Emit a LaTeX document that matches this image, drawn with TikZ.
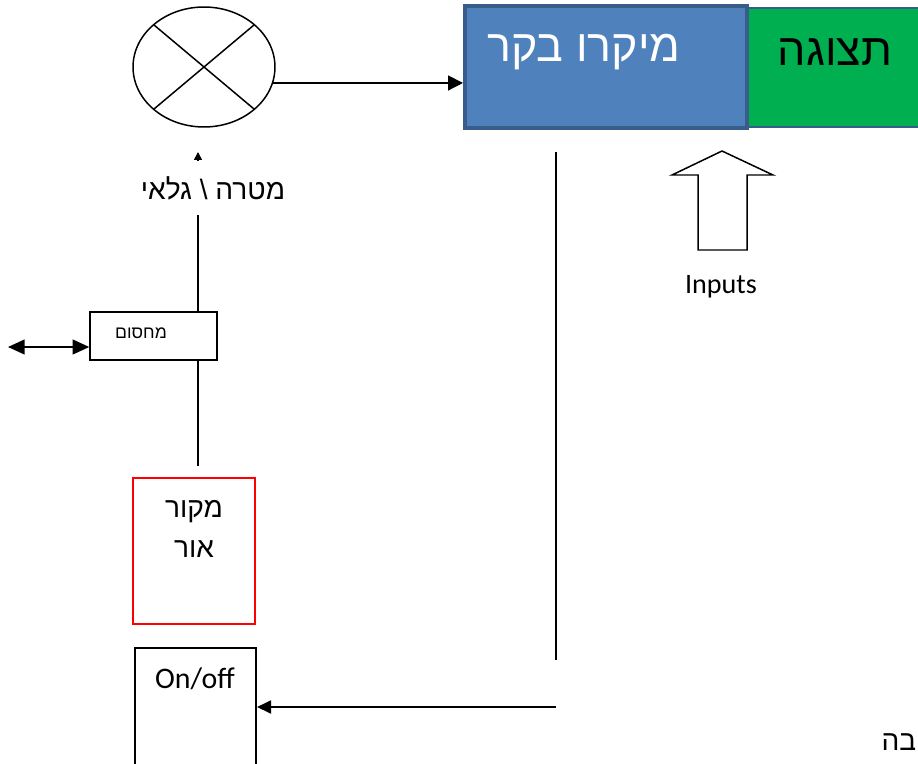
\documentclass[tikz,border=0pt]{standalone}
\usepackage{fontspec}
\setmainfont{Carlito}
\newfontfamily\hebfont[Script=Hebrew]{Liberation Sans}
\TeXXeTstate=1
\usetikzlibrary{arrows.meta,shapes.geometric}
\definecolor{ctrlblue}{RGB}{79,129,189}
\definecolor{ctrledge}{RGB}{56,93,138}
\definecolor{dispgreen}{RGB}{0,176,80}
\newcommand{\heb}[1]{{\hebfont\beginR #1\endR}}
\tikzset{
  box/.style={draw, rectangle, inner sep=0pt},
  lbl/.style={inner sep=0pt, font=\fontsize{16}{19}\selectfont},
}
\begin{document}
\begin{tikzpicture}[x=0.02cm, y=-0.02cm, line width=0.85pt,
    >={Triangle[length=8.5pt,width=8.5pt]}]
		\useasboundingbox (0,0) rectangle (918,763);
		% target / detector
		\node[draw, ellipse, minimum width=2.84cm, minimum height=2.4cm, inner sep=0pt] (det) at (204,67) {};
		\draw (154,25) -- (254,109);
		\draw (254,25) -- (154,109);
		% controller and display
		\draw[fill=dispgreen, draw=ctrledge, line width=0.6pt] (747,8) rectangle (935,127);
		\node[box, fill=ctrlblue, draw=ctrledge, line width=2.3pt, minimum width=5.64cm, minimum height=2.44cm] (ctrl) at (606,67) {};
		\node[lbl, text=white, font=\fontsize{25.5}{30}\selectfont] at (584,52) {\heb{מיקרו בקר}};
		\node[lbl, font=\fontsize{25.5}{30}\selectfont] (disp) at (835,52) {\heb{תצוגה}};
		\draw[->] (det.-13) -- (det.-13 -| ctrl.west);
		% beam path
		\node[box, minimum width=2.54cm, minimum height=0.96cm] (gate) at (153.5,336) {};
		\node[lbl, font=\fontsize{10}{12}\selectfont] at (141,333) {\heb{מחסום}};
		\coordinate (beam) at (198,466);
		\draw (beam) -- (beam |- gate.south);
		\draw[-{Triangle[length=4.5pt,width=4.5pt]}] (beam |- gate.north) -- (198,152);
		\node[lbl, fill=white, minimum height=1.1cm] (target) at (213,188) {\heb{מטרה \textbackslash{} גלאי}};
		\coordinate (side) at (8,347);
		\draw[<->, >={Triangle[length=9.5pt,width=8.5pt]}] (side) -- (side -| gate.west);
		% light source and switch
		\node[box, draw=red, line width=1.2pt, minimum width=2.44cm, minimum height=2.92cm] (src) at (194,551) {};
		\node[lbl, align=center, font=\fontsize{16}{23}\selectfont] at (194,529) {\heb{מקור}\\\heb{אור}};
		\node[box, line width=1.2pt, minimum width=2.42cm, minimum height=2.56cm] (onoff) at (195.5,712) {};
		\node[lbl, font=\fontsize{17}{20}\selectfont] at (195,679) {On/off};
		\coordinate (bus) at (556,152);
		\draw (bus) -- (556,660);
		\coordinate (ret) at (556,707);
		\draw[->, >={Triangle[length=8pt,width=7.5pt]}] (ret) -- (ret -| onoff.east);
		% inputs
		\draw (722,151) -- (773,175) -- (747,175) -- (747,250) -- (698,250) -- (698,175) -- (672,175) -- cycle;
		\node[lbl] (inputs) at (721,287) {Inputs};
		\node[lbl, anchor=east, font=\fontsize{16}{19}\selectfont] at (917,742) {\heb{בה}};
\end{tikzpicture}
\end{document}
